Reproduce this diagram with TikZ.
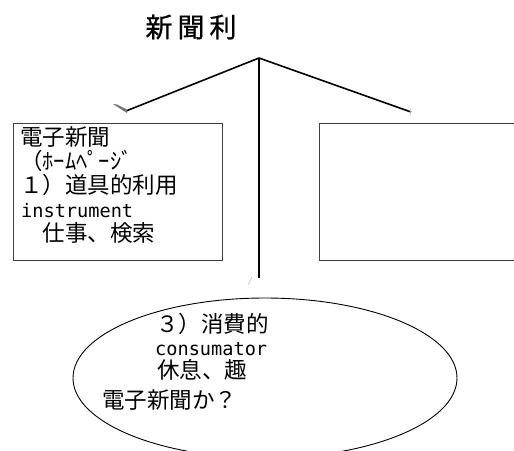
\documentclass[tikz,border=0pt]{standalone}
\usepackage{fontspec}
\newfontfamily\jp{Noto Sans CJK JP}
\newfontfamily\jptitle[FakeBold=0.8]{Noto Sans CJK JP}
\newfontfamily\jpmono{DejaVu Sans Mono}
\usetikzlibrary{shapes.geometric}
\begin{document}
\begin{tikzpicture}[x=1pt,y=-1pt,
  conn/.style={line width=1.6pt, draw=black},
  frame/.style={draw=black!75, line width=1.2pt, rectangle, inner sep=0pt},
  txt/.style={anchor=base west, inner sep=0pt, font=\jp\fontsize{22.5}{24}\selectfont},
  lat/.style={anchor=base west, inner sep=0pt, font=\jpmono\fontsize{18.6}{24}\selectfont},
  tipmark/.style={draw=black!25, line width=0.6pt},
]
\useasboundingbox[fill=white] (0,0) rectangle (514,450);
% title
\node[inner sep=0pt, font=\jptitle\fontsize{27}{30}\selectfont] (title) at (191,27) {新\hspace{5pt}聞\hspace{5pt}利};
% connectors
\coordinate (apex) at (259,58);
\coordinate (lend) at (126,111);
\coordinate (rend) at (411,112);
\coordinate (dend) at (259,278);
\draw[conn] (apex) -- (lend);
\draw[conn] (apex) -- (rend);
\draw[conn] (apex) -- (dend);
% broken arrow tips
\fill[black!55] (127,113) -- (113,104) -- (117,104.5) -- (127,109.5) -- cycle;
\draw[tipmark] (411,108) -- (410,116);
\draw[tipmark] (252,277) -- (248,285);
% boxes
\node[frame, minimum width=209pt, minimum height=137pt, anchor=north west] (lbox) at (13,123) {};
\node[frame, minimum width=230pt, minimum height=137pt, anchor=north west] (rbox) at (319,123) {};
% ellipse
\node[draw=black, ellipse, line width=0.9pt, inner sep=0pt, minimum width=384pt, minimum height=160pt] (ell) at (265,378) {};
% left box text
\node[txt] (l1) at (20,145) {電子新聞};
\node[txt] (l2) at (20,169) {（ﾎｰﾑﾍﾟｰｼﾞ};
\node[txt] (l3) at (20,193) {１）道具的利用};
\node[lat] (l4) at (21,217) {instrument};
\node[txt] (l5) at (20,241) {　仕事、検索};
% ellipse text
\node[txt] (e1) at (156,332) {３）消費的};
\node[lat] (e2) at (155,355) {consumator};
\node[txt] (e3) at (157,378) {休息、趣};
\node[txt] (e4) at (102,408) {電子新聞か？};
\end{tikzpicture}
\end{document}
